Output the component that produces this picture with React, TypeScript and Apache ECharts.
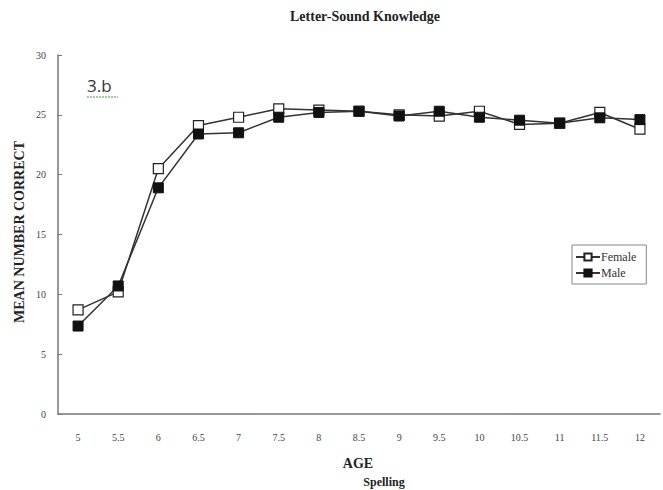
import React, { useEffect, useRef } from "react";
import * as echarts from "echarts";

const ages = ["5", "5.5", "6", "6.5", "7", "7.5", "8", "8.5", "9", "9.5", "10", "10.5", "11", "11.5", "12"];
const female = [8.7, 10.2, 20.5, 24.1, 24.8, 25.5, 25.4, 25.3, 25.0, 24.9, 25.3, 24.2, 24.3, 25.2, 23.8];
const male = [7.35, 10.7, 18.9, 23.4, 23.5, 24.8, 25.2, 25.3, 24.9, 25.3, 24.8, 24.55, 24.3, 24.75, 24.6];
const yTicks = { min: 0, max: 30, interval: 5 };

const SERIF = "Liberation Serif, DejaVu Serif, serif";

export default function App() {
  const ref = useRef<HTMLDivElement>(null);
  useEffect(() => {
    if (!ref.current) return;
    const chart = echarts.init(ref.current, undefined, { renderer: "svg" });
    chart.setOption({
      animation: false,
      backgroundColor: "#fff",
      textStyle: { fontFamily: SERIF },
      grid: { left: 58, right: 3, top: 55, bottom: 76, containLabel: false },
      xAxis: {
        type: "category",
        data: ages,
        boundaryGap: true,
        axisLine: { lineStyle: { color: "#777", width: 1.5 } },
        axisTick: { inside: true, length: 4, lineStyle: { color: "#777" } },
        axisLabel: { fontFamily: SERIF, fontSize: 10, color: "#444", margin: 18 },
      },
      yAxis: {
        type: "value",
        min: yTicks.min,
        max: yTicks.max,
        interval: yTicks.interval,
        splitLine: { show: false },
        axisLine: { show: true, lineStyle: { color: "#777", width: 1.5 } },
        axisTick: { show: true, inside: true, length: 4, lineStyle: { color: "#777" } },
        axisLabel: { fontFamily: SERIF, fontSize: 10, color: "#444", margin: 12 },
      },
      legend: {
        left: 572,
        top: 245,
        width: 76,
        orient: "vertical",
        itemGap: 4,
        itemWidth: 24,
        itemHeight: 9,
        padding: [6, 10, 5, 3],
        borderColor: "#888",
        borderWidth: 1,
        textStyle: { fontFamily: SERIF, fontSize: 12, color: "#333", padding: [0, 0, 0, -4] },
        data: ["Female", "Male"],
      },
      series: [
        {
          name: "Female",
          type: "line",
          data: female,
          symbol: "rect",
          symbolSize: 10,
          lineStyle: { color: "#333", width: 1.5 },
          itemStyle: { color: "#fff", borderColor: "#222", borderWidth: 1.2 },
          z: 3,
        },
        {
          name: "Male",
          type: "line",
          data: male,
          symbol: "rect",
          symbolSize: 10,
          lineStyle: { color: "#333", width: 1.5 },
          itemStyle: { color: "#111", borderColor: "#111", borderWidth: 1 },
          z: 4,
        },
      ],
      graphic: [
        {
          type: "text",
          x: 365,
          y: 16,
          style: {
            text: "Letter-Sound Knowledge",
            font: `bold 14px ${SERIF}`,
            fill: "#222",
            align: "center",
            verticalAlign: "middle",
          },
        },
        {
          type: "text",
          x: 19,
          y: 232,
          rotation: Math.PI / 2,
          style: {
            text: "MEAN NUMBER CORRECT",
            font: `bold 14px ${SERIF}`,
            fill: "#222",
            align: "center",
            verticalAlign: "middle",
          },
        },
        {
          type: "text",
          x: 358,
          y: 463,
          style: { text: "AGE", font: `bold 14px ${SERIF}`, fill: "#222", align: "center", verticalAlign: "middle" },
        },
        {
          type: "text",
          x: 384,
          y: 482,
          style: { text: "Spelling", font: `bold 12px ${SERIF}`, fill: "#222", align: "center", verticalAlign: "middle" },
        },
        {
          type: "text",
          x: 87,
          y: 77,
          style: { text: "3.b", font: `17px Open Sans, sans-serif`, fill: "#333" },
        },
        {
          type: "line",
          shape: { x1: 87, y1: 97, x2: 118, y2: 97 },
          style: { stroke: "#7cc47c", lineWidth: 1.5, lineDash: [2, 1] },
        },
      ],
    });
    return () => chart.dispose();
  }, []);
  return <div ref={ref} style={{ width: 663, height: 490, position: "absolute", left: 0, top: 0 }} />;
}
